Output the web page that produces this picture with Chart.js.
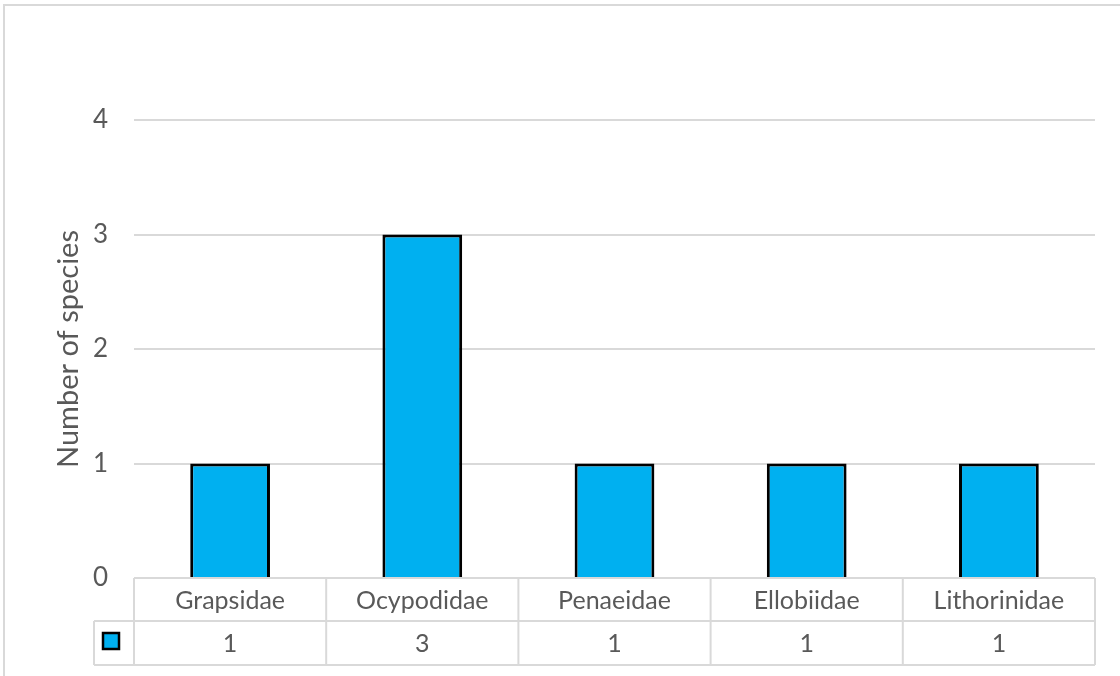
<!DOCTYPE html>
<html>
<head>
<meta charset="utf-8">
<script src="https://cdn.jsdelivr.net/npm/chart.js@4/dist/chart.umd.min.js"></script>
<style>
  html, body { margin: 0; padding: 0; background: #ffffff; }
  #wrap { position: relative; width: 1120px; height: 676px; }
</style>
</head>
<body>
<div id="wrap"><canvas id="chart" width="1120" height="676"></canvas></div>
<script>
// Species count per family
const families = ['Grapsidae', 'Ocypodidae', 'Penaeidae', 'Ellobiidae', 'Lithorinidae'];
const speciesCounts = [1, 3, 1, 1, 1];
const yTicks = [0, 1, 2, 3, 4];

const FONT = 'Lato, "Open Sans", "Noto Sans", sans-serif';
const TEXT = '#595959';
const LINE = '#d9d9d9';
const BAR_FILL = '#00B0F0';

// Data table under the plot: family names (from the x axis), values row and series key
const dataTable = {
  id: 'dataTable',
  beforeDraw(chart) {
    const ctx = chart.ctx;
    ctx.save();
    // outer frame of the chart object
    ctx.strokeStyle = LINE;
    ctx.lineWidth = 2;
    ctx.beginPath();
    ctx.moveTo(4, 700);
    ctx.lineTo(4, 5);
    ctx.lineTo(1130, 5);
    ctx.stroke();
    ctx.restore();
  },
  afterDraw(chart) {
    const ctx = chart.ctx;
    const area = chart.chartArea;
    const xs = chart.scales.x;
    const rowTop = area.bottom;
    const rowMid = 621;
    const rowBottom = 665;
    const keyLeft = 94;
    const n = chart.data.labels.length;
    const step = (area.right - area.left) / n;

    ctx.save();
    ctx.strokeStyle = LINE;
    ctx.lineWidth = 2;
    ctx.beginPath();
    // horizontal rules
    ctx.moveTo(area.left, rowTop); ctx.lineTo(area.right, rowTop);
    ctx.moveTo(keyLeft, rowMid); ctx.lineTo(area.right, rowMid);
    ctx.moveTo(keyLeft, rowBottom); ctx.lineTo(area.right, rowBottom);
    // column dividers
    for (let i = 0; i <= n; i++) {
      const x = area.left + i * step;
      ctx.moveTo(x, rowTop); ctx.lineTo(x, rowBottom);
    }
    ctx.moveTo(keyLeft, rowMid); ctx.lineTo(keyLeft, rowBottom);
    ctx.stroke();

    // values row
    const ds = chart.data.datasets[0];
    ctx.fillStyle = TEXT;
    ctx.font = '25px ' + FONT;
    ctx.textAlign = 'center';
    ctx.textBaseline = 'middle';
    ds.data.forEach((v, i) => {
      ctx.fillText(String(v), xs.getPixelForValue(i), (rowMid + rowBottom) / 2 + 1);
    });

    // series key
    const kx = 103, ky = 633, ks = 16;
    ctx.fillStyle = ds.backgroundColor;
    ctx.fillRect(kx, ky, ks, ks);
    ctx.strokeStyle = ds.borderColor;
    ctx.lineWidth = 2.5;
    ctx.strokeRect(kx, ky, ks, ks);
    ctx.restore();
  }
};

new Chart(document.getElementById('chart'), {
  type: 'bar',
  data: {
    labels: families,
    datasets: [{
      label: 'Number of species',
      data: speciesCounts,
      backgroundColor: BAR_FILL,
      borderColor: '#000000',
      borderWidth: 3,
      borderSkipped: 'start',
      categoryPercentage: 1,
      barPercentage: 0.415
    }]
  },
  options: {
    responsive: false,
    animation: false,
    events: [],
    layout: { padding: { left: 0, top: 120, right: 25, bottom: 0 } },
    plugins: { legend: { display: false }, tooltip: { enabled: false } },
    scales: {
      x: {
        afterFit(scale) { scale.height = 98; },
        grid: { display: false, drawTicks: false },
        border: { display: false },
        ticks: { color: TEXT, font: { family: FONT, size: 25 }, padding: 8, maxRotation: 0, autoSkip: false }
      },
      y: {
        min: 0,
        max: 4,
        afterFit(scale) { scale.width = 134; },
        afterBuildTicks(scale) { scale.ticks = yTicks.map(v => ({ value: v })); },
        grid: { color: LINE, lineWidth: 2, drawTicks: false },
        border: { display: false },
        ticks: { color: TEXT, font: { family: FONT, size: 26 }, padding: 26 },
        title: {
          display: true,
          text: 'Number of species',
          color: TEXT,
          font: { family: FONT, size: 29 },
          padding: { top: 51, bottom: 0 }
        }
      }
    }
  },
  plugins: [dataTable]
});
</script>
</body>
</html>
